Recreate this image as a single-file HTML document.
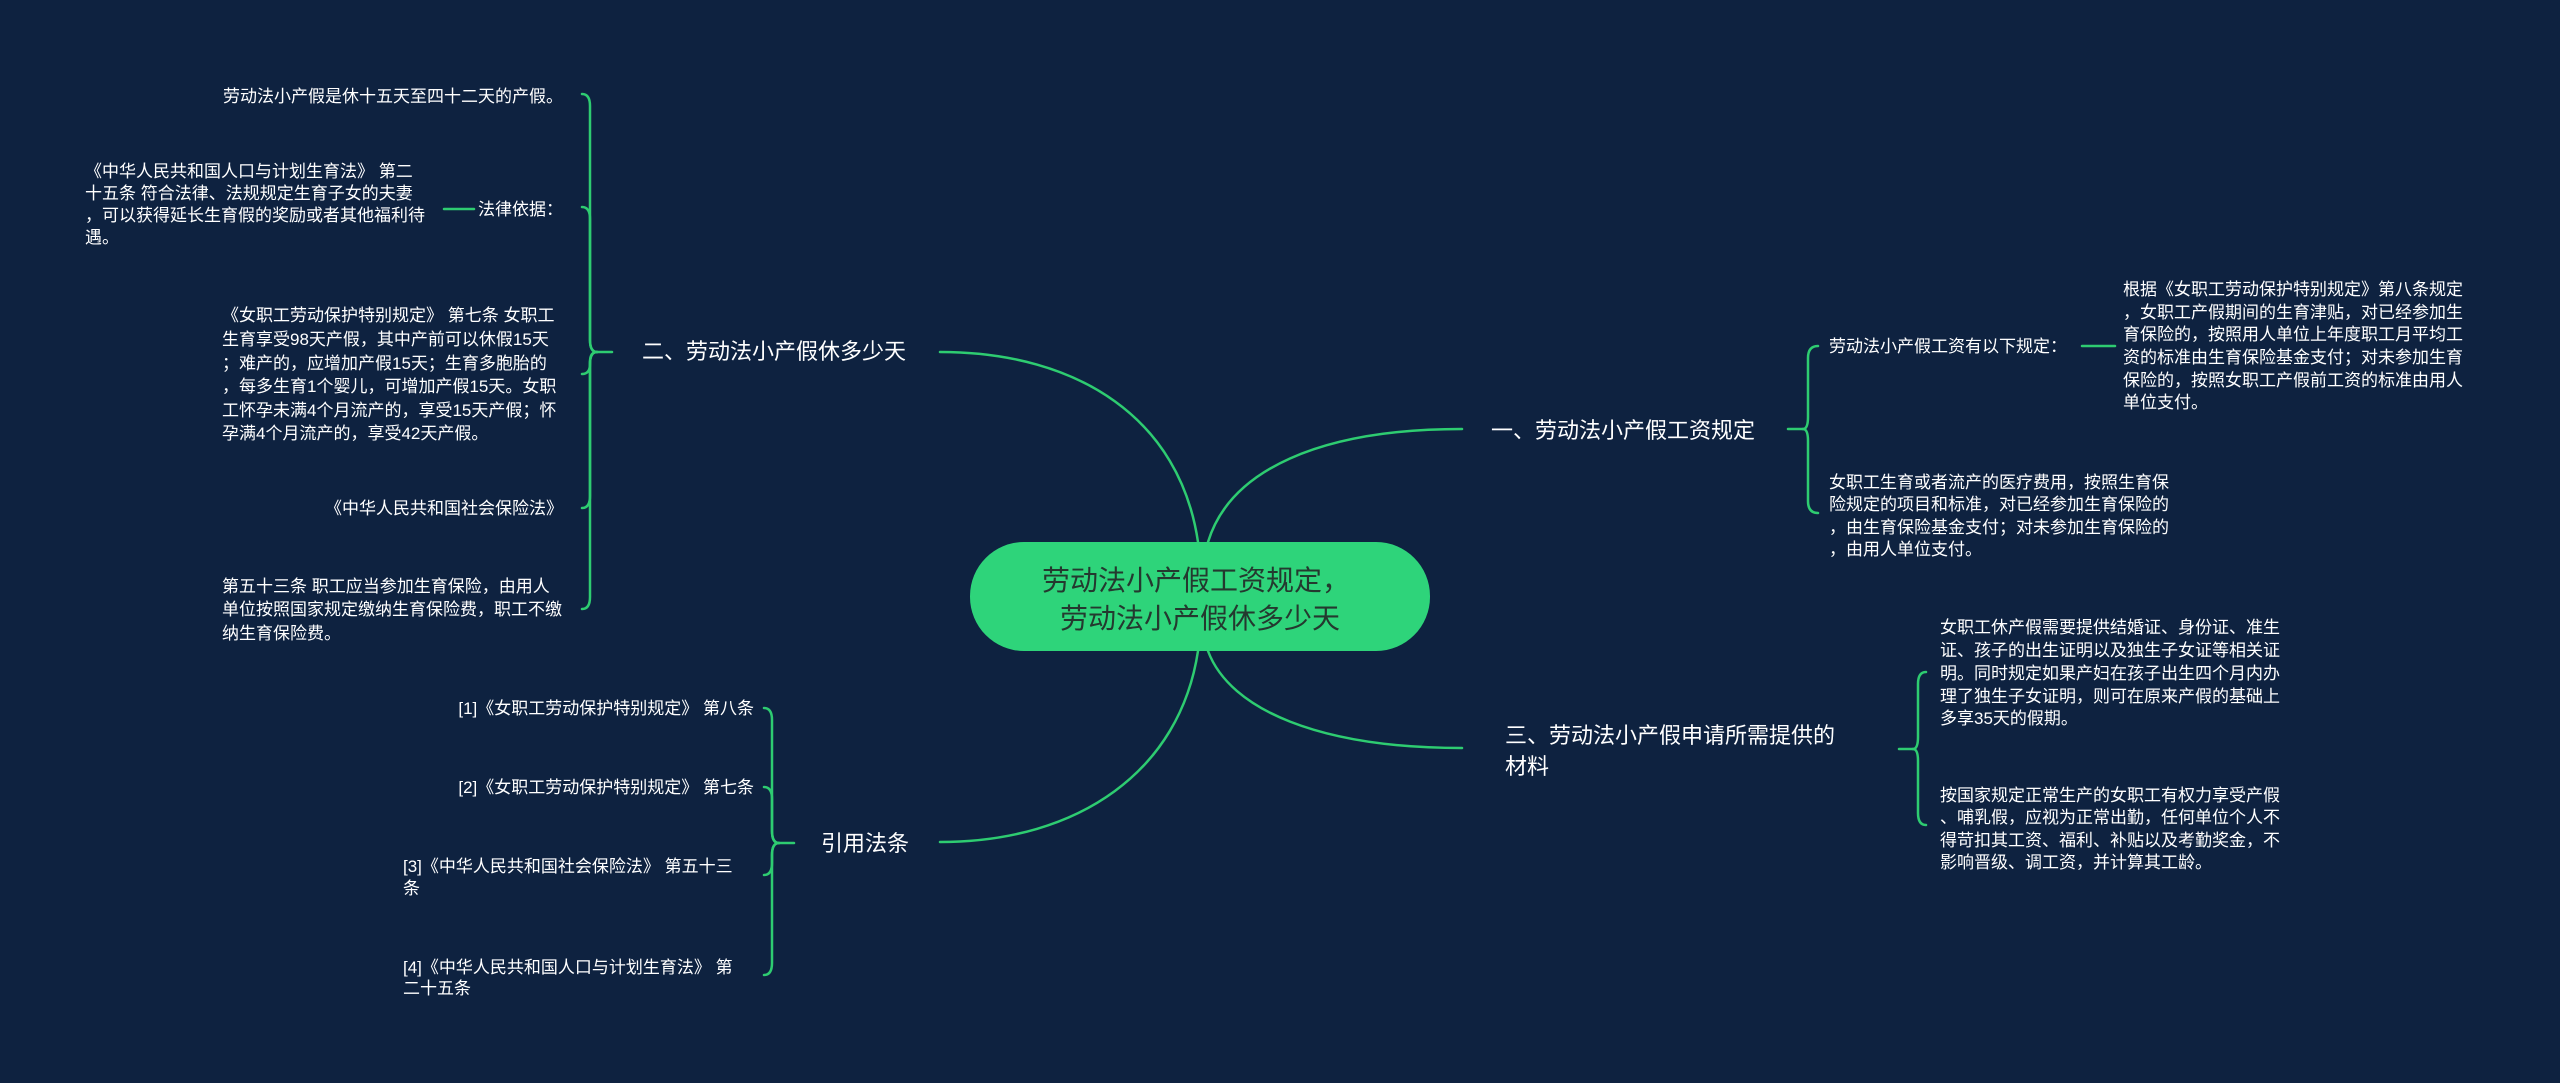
<!DOCTYPE html>
<html><head><meta charset="utf-8"><style>
html,body{margin:0;padding:0;background:#0e2240;}
svg{display:block}
text{font-family:"Liberation Sans","Noto Sans CJK SC",sans-serif;fill:#ffffff;}
.s{font-size:17px}
.b{font-size:22px}
</style></head><body>
<svg width="2560" height="1083" viewBox="0 0 2560 1083" xmlns="http://www.w3.org/2000/svg">
<rect width="2560" height="1083" fill="#0e2240"/>
<g fill="none" stroke="#2ecc71" stroke-width="2.5" stroke-linecap="round">
<!-- center curves -->
<path d="M1198 542 C1180 420 1080 352 940 352"/>
<path d="M1208 542 C1230 470 1320 429 1462 429"/>
<path d="M1198 651 C1180 770 1080 842 940 842"/>
<path d="M1208 651 C1230 710 1320 748 1462 748"/>
<!-- left bracket 二 -->
<path d="M612 352 L597 352"/>
<path d="M597 352 Q590 352 590 340 L590 106 Q590 94 582 94"/>
<path d="M597 352 Q590 352 590 340 L590 219 Q590 207 582 207"/>
<path d="M597 352 Q590 352 590 362 L590 364 Q590 374 582 374"/>
<path d="M597 352 Q590 352 590 364 L590 496 Q590 508 582 508"/>
<path d="M597 352 Q590 352 590 364 L590 597 Q590 609 582 609"/>
<path d="M444 209 L474 209"/>
<!-- 引用 bracket -->
<path d="M794 843 L779 843"/>
<path d="M779 843 Q772 843 772 831 L772 720 Q772 708 764 708"/>
<path d="M779 843 Q772 843 772 831 L772 799 Q772 787 764 787"/>
<path d="M779 843 Q772 843 772 855 L772 863 Q772 875 764 875"/>
<path d="M779 843 Q772 843 772 855 L772 963 Q772 975 764 975"/>
<!-- right bracket 一 -->
<path d="M1788 429 L1803 429"/>
<path d="M1803 429 Q1808 429 1808 417 L1808 358 Q1808 346 1818 346"/>
<path d="M1803 429 Q1808 429 1808 441 L1808 501 Q1808 513 1818 513"/>
<path d="M2082 346 L2115 346"/>
<!-- right bracket 三 -->
<path d="M1899 749 L1913 749"/>
<path d="M1913 749 Q1918 749 1918 737 L1918 684 Q1918 672 1926 672"/>
<path d="M1913 749 Q1918 749 1918 761 L1918 813 Q1918 825 1926 825"/>
</g>
<!-- center node -->
<rect x="970" y="542" width="460" height="109" rx="54" fill="#2ed47a"/>
<text x="1196" y="590" text-anchor="middle" style="font-size:28px;fill:#24392f">劳动法小产假工资规定，</text>
<text x="1200" y="628" text-anchor="middle" style="font-size:28px;fill:#24392f">劳动法小产假休多少天</text>
<!-- branches -->
<text class="b" x="642" y="359">二、劳动法小产假休多少天</text>
<text class="b" x="1491" y="438">一、劳动法小产假工资规定</text>
<text class="b" x="1505" y="743">三、劳动法小产假申请所需提供的</text>
<text class="b" x="1505" y="774">材料</text>
<text class="b" x="821" y="851">引用法条</text>
<!-- left children -->
<text class="s" x="563" y="102" text-anchor="end">劳动法小产假是休十五天至四十二天的产假。</text>
<text class="s" x="563" y="215" text-anchor="end">法律依据：</text>
<text class="s" x="85" y="177">《中华人民共和国人口与计划生育法》 第二</text>
<text class="s" x="85" y="199">十五条 符合法律、法规规定生育子女的夫妻</text>
<text class="s" x="85" y="221">，可以获得延长生育假的奖励或者其他福利待</text>
<text class="s" x="85" y="243">遇。</text>
<text class="s" x="222" y="321">《女职工劳动保护特别规定》 第七条 女职工</text>
<text class="s" x="222" y="345">生育享受98天产假，其中产前可以休假15天</text>
<text class="s" x="222" y="369">；难产的，应增加产假15天；生育多胞胎的</text>
<text class="s" x="222" y="392">，每多生育1个婴儿，可增加产假15天。女职</text>
<text class="s" x="222" y="416">工怀孕未满4个月流产的，享受15天产假；怀</text>
<text class="s" x="222" y="439">孕满4个月流产的，享受42天产假。</text>
<text class="s" x="563" y="514" text-anchor="end">《中华人民共和国社会保险法》</text>
<text class="s" x="222" y="592">第五十三条 职工应当参加生育保险，由用人</text>
<text class="s" x="222" y="615">单位按照国家规定缴纳生育保险费，职工不缴</text>
<text class="s" x="222" y="639">纳生育保险费。</text>
<!-- 引用 children -->
<text class="s" x="754" y="714" text-anchor="end">[1]《女职工劳动保护特别规定》 第八条</text>
<text class="s" x="754" y="793" text-anchor="end">[2]《女职工劳动保护特别规定》 第七条</text>
<text class="s" x="403" y="872">[3]《中华人民共和国社会保险法》 第五十三</text>
<text class="s" x="403" y="894">条</text>
<text class="s" x="403" y="973">[4]《中华人民共和国人口与计划生育法》 第</text>
<text class="s" x="403" y="994">二十五条</text>
<!-- right 一 children -->
<text class="s" x="1829" y="352">劳动法小产假工资有以下规定：</text>
<text class="s" x="2123" y="295">根据《女职工劳动保护特别规定》第八条规定</text>
<text class="s" x="2123" y="318">，女职工产假期间的生育津贴，对已经参加生</text>
<text class="s" x="2123" y="340">育保险的，按照用人单位上年度职工月平均工</text>
<text class="s" x="2123" y="363">资的标准由生育保险基金支付；对未参加生育</text>
<text class="s" x="2123" y="386">保险的，按照女职工产假前工资的标准由用人</text>
<text class="s" x="2123" y="408">单位支付。</text>
<text class="s" x="1829" y="488">女职工生育或者流产的医疗费用，按照生育保</text>
<text class="s" x="1829" y="510">险规定的项目和标准，对已经参加生育保险的</text>
<text class="s" x="1829" y="533">，由生育保险基金支付；对未参加生育保险的</text>
<text class="s" x="1829" y="555">，由用人单位支付。</text>
<!-- right 三 children -->
<text class="s" x="1940" y="633">女职工休产假需要提供结婚证、身份证、准生</text>
<text class="s" x="1940" y="656">证、孩子的出生证明以及独生子女证等相关证</text>
<text class="s" x="1940" y="679">明。同时规定如果产妇在孩子出生四个月内办</text>
<text class="s" x="1940" y="702">理了独生子女证明，则可在原来产假的基础上</text>
<text class="s" x="1940" y="724">多享35天的假期。</text>
<text class="s" x="1940" y="801">按国家规定正常生产的女职工有权力享受产假</text>
<text class="s" x="1940" y="823">、哺乳假，应视为正常出勤，任何单位个人不</text>
<text class="s" x="1940" y="846">得苛扣其工资、福利、补贴以及考勤奖金，不</text>
<text class="s" x="1940" y="868">影响晋级、调工资，并计算其工龄。</text>
</svg>
</body></html>
